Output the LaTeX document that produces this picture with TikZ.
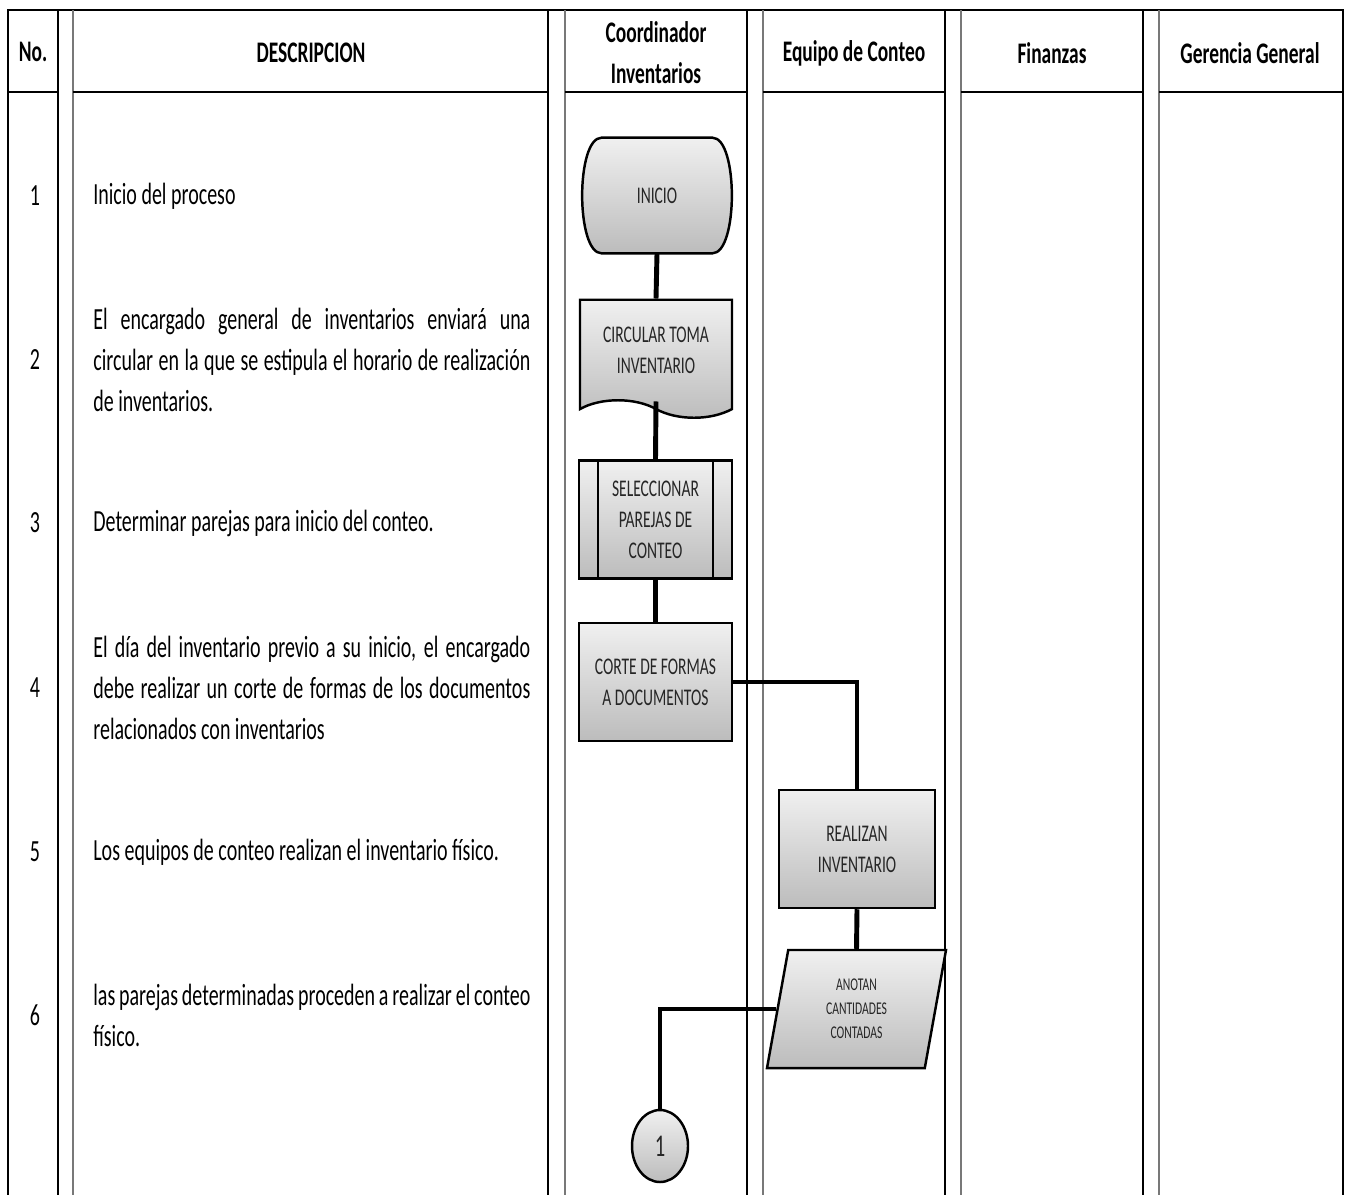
\documentclass[tikz,border=0pt]{standalone}
\usepackage{fontspec}
\setmainfont{Carlito}[FakeStretch=0.65]
\usepackage{tikz}
\usetikzlibrary{shapes.geometric, shapes.symbols, calc, backgrounds}
\definecolor{lane}{RGB}{120,120,120}
\definecolor{fill1}{RGB}{240,240,240}
\definecolor{fill2}{RGB}{188,188,188}

\begin{document}
\begin{tikzpicture}[x=0.2mm, y=-0.2mm,
  hdr/.style={font=\fontsize{17}{23.3}\selectfont\bfseries, align=center},
  num/.style={font=\fontsize{17.5}{23.3}\selectfont},
  desc/.style={font=\fontsize{17.5}{23.3}\selectfont, text width=87.4mm, align=justify, anchor=west, inner sep=0pt},
  shp/.style={draw, line width=1.4pt, top color=fill1, bottom color=fill2, text=black!85, align=center, font=\fontsize{13.6}{17.6}\selectfont},
  proc/.style={shp, rectangle, minimum width=30.6mm, minimum height=23.6mm},
  term/.style={rectangle, text=black!85, font=\fontsize{13.6}{17.6}\selectfont, minimum width=30mm, minimum height=23mm},
  docu/.style={shp, tape, tape bend top=none, tape bend bottom=out and in, tape bend height=3.5mm, minimum width=30.4mm, minimum height=23.6mm},
  dato/.style={shp, trapezium, trapezium left angle=73.5, trapezium right angle=106.5, trapezium stretches body, minimum width=35.8mm, minimum height=23.6mm, font=\fontsize{10.2}{13.7}\selectfont},
  conn/.style={shp, ellipse, minimum width=11.2mm, minimum height=14.4mm, inner sep=0pt, font=\fontsize{18}{20}\selectfont},
  flow/.style={line width=2.8pt},
  rule/.style={line width=1.1pt},
  grule/.style={line width=1.1pt, color=lane}
]
\useasboundingbox (0,0) rectangle (1346,1195);

% --- Table frame ---
\draw[line width=1.7pt] (7,10) -- (1344,10);
\foreach \x in {8,58,548,747,945,1143,1343}
  \draw[rule] (\x,10) -- (\x,1195);
\foreach \x in {73,565,763,961,1159}
  \draw[grule] (\x,10) -- (\x,1195);
\foreach \a/\b in {8/58,73/548,565/747,763/945,961/1143,1159/1343}
  \draw[rule] (\a,92) -- (\b,92);

% --- Headers ---
\node[hdr] (hno) at (33,52) {No.};
\node[hdr] (hdesc) at (311,53) {DESCRIPCION};
\node[hdr] (hcoord) at (656,53) {Coordinador\\Inventarios};
\node[hdr] (hequipo) at (854,53) {Equipo de Conteo};
\node[hdr] (hfin) at (1052,53) {Finanzas};
\node[hdr] (hger) at (1250,53) {Gerencia General};

% --- Steps ---
\node[num] (n1) at (35,196) {1};
\node[num] (n2) at (35,360) {2};
\node[num] (n3) at (35,523) {3};
\node[num] (n4) at (35,688) {4};
\node[num] (n5) at (35,852) {5};
\node[num] (n6) at (35,1015) {6};

\node[desc] (d1) at (93,196) {Inicio del proceso};
\node[desc] (d2) at (93,360) {El encargado general de inventarios enviará una\linebreak circular en la que se estipula el horario de realización\linebreak de inventarios.};
\node[desc] (d3) at (93,523) {Determinar parejas para inicio del conteo.};
\node[desc] (d4) at (93,688) {El día del inventario previo a su inicio, el encargado\linebreak debe realizar un corte de formas de los documentos\linebreak relacionados con inventarios};
\node[desc] (d5) at (93,852) {Los equipos de conteo realizan el inventario físico.};
\node[desc] (d6) at (93,1015) {las parejas determinadas proceden a realizar el conteo\linebreak físico.};

% --- Flow shapes ---
\node[term] (inicio) at (657,195.5) {INICIO};
\begin{scope}[on background layer]
\draw[shp] ($(inicio.north west)+(20,0)$) -- ($(inicio.north east)+(-20,0)$)
  .. controls ($(inicio.north east)+(6,0)$) and ($(inicio.south east)+(6,0)$) .. ($(inicio.south east)+(-20,0)$)
  -- ($(inicio.south west)+(20,0)$)
  .. controls ($(inicio.south west)+(-6,0)$) and ($(inicio.north west)+(-6,0)$) .. ($(inicio.north west)+(20,0)$) -- cycle;
\end{scope}
\node[docu] (circular) at (656,350) {CIRCULAR TOMA\\INVENTARIO};
\node[proc] (selec) at (655.5,519.5) {SELECCIONAR\\PAREJAS DE\\CONTEO};
\draw[line width=1.4pt] ([xshift=4mm]selec.north west) -- ([xshift=4mm]selec.south west);
\draw[line width=1.4pt] ([xshift=-4mm]selec.north east) -- ([xshift=-4mm]selec.south east);
\node[proc] (corte) at (655.5,682) {CORTE DE FORMAS\\A DOCUMENTOS};
\node[proc, minimum width=31.2mm] (realizan) at (857,849) {REALIZAN\\INVENTARIO};
\node[dato] (anotan) at (856.5,1009) {ANOTAN\\CANTIDADES\\CONTADAS};
\node[conn] (uno) at (660,1146) {1};

% --- Connectors ---
\draw[flow] (inicio.south) -- (circular.north);
\draw[flow] (circular.south) -- (selec.north);
\draw[flow] (selec.south) -- (corte.north);
\draw[flow] (corte.east) -| (realizan.north);
\draw[flow] (realizan.south) -- (anotan.north);
\draw[flow] (anotan.west) -| (uno.north);

\end{tikzpicture}
\end{document}
